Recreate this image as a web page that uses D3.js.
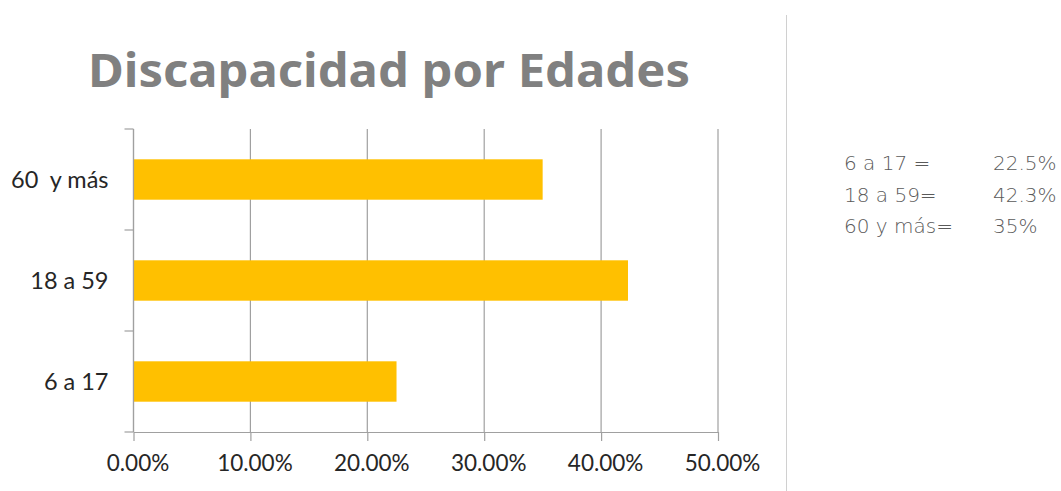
<!DOCTYPE html>
<html>
<head>
<meta charset="utf-8">
<script src="https://cdn.jsdelivr.net/npm/d3@7"></script>
<style>
  body { margin: 0; background: #fff; }
  svg { display: block; }
</style>
</head>
<body>
<script>
// data
const categories = ["60  y más", "18 a 59", "6 a 17"];
const values = [0.35, 0.423, 0.225];
const xTicks = [0, 0.1, 0.2, 0.3, 0.4, 0.5];
const noteLabels = ["6 a 17 =", "18 a 59=", "60 y más="];
const noteValues = ["22.5%", "42.3%", "35%"];

// layout
const W = 1061, H = 491;
const margin = {top: 129, left: 133.5, right: 343, bottom: 59};
const width = 718 - margin.left,
    height = 432 - margin.top;

const svg = d3.select("body").append("svg")
    .attr("width", W)
    .attr("height", H);

// title
svg.append("text")
    .attr("x", 389)
    .attr("y", 87)
    .attr("text-anchor", "middle")
    .attr("textLength", 602)
    .attr("lengthAdjust", "spacingAndGlyphs")
    .style("font-family", "'Noto Sans', 'DejaVu Sans', sans-serif")
    .style("font-weight", "bold")
    .style("font-size", "47px")
    .style("fill", "#808080")
    .text("Discapacidad por Edades");

const g = svg.append("g")
    .attr("transform", "translate(" + margin.left + "," + margin.top + ")");

const x = d3.scaleLinear()
    .domain([0, 0.5])
    .range([0, width]);

const y = d3.scaleBand()
    .domain(categories)
    .range([0, height])
    .paddingInner(0.6)
    .paddingOuter(0.3);

// gridlines
g.selectAll(".grid")
    .data(xTicks)
    .enter().append("line")
    .attr("x1", d => x(d))
    .attr("x2", d => x(d))
    .attr("y1", 0)
    .attr("y2", height)
    .attr("stroke", "#a0a0a0")
    .attr("stroke-width", 1.2);

// bars
g.selectAll(".bar")
    .data(values)
    .enter().append("rect")
    .attr("x", x(0))
    .attr("y", (d, i) => y(categories[i]))
    .attr("width", d => x(d) - x(0))
    .attr("height", y.bandwidth())
    .attr("fill", "#ffc000");

// x axis
const xAxis = g.append("g")
    .attr("transform", "translate(0," + height + ")")
    .call(d3.axisBottom(x)
        .tickValues(xTicks)
        .tickFormat(d3.format(".2%"))
        .tickSize(9)
        .tickSizeOuter(0)
        .tickPadding(14));
xAxis.select(".domain").attr("stroke", "#a0a0a0").attr("stroke-width", 1.2);
xAxis.selectAll(".tick line").attr("stroke", "#a0a0a0").attr("stroke-width", 1.2);
xAxis.selectAll("text")
    .attr("dx", 4)
    .style("font-family", "Lato, 'Open Sans', sans-serif")
    .style("font-size", "22.5px")
    .style("fill", "#262626");

// y axis line and boundary ticks
const bounds = d3.range(categories.length + 1).map(i => i * height / categories.length);
g.append("line")
    .attr("x1", 0).attr("x2", 0)
    .attr("y1", 0).attr("y2", height)
    .attr("stroke", "#a0a0a0")
    .attr("stroke-width", 1.2);
g.selectAll(".ytick")
    .data(bounds)
    .enter().append("line")
    .attr("x1", -9).attr("x2", 0)
    .attr("y1", d => d).attr("y2", d => d)
    .attr("stroke", "#a0a0a0")
    .attr("stroke-width", 1.2);

// y labels
g.selectAll(".ylabel")
    .data(categories)
    .enter().append("text")
    .attr("x", -25)
    .attr("y", d => y(d) + y.bandwidth() / 2)
    .attr("dy", "0.35em")
    .attr("text-anchor", "end")
    .attr("xml:space", "preserve")
    .style("white-space", "pre")
    .style("font-family", "Lato, 'Open Sans', sans-serif")
    .style("font-size", "23.5px")
    .style("fill", "#262626")
    .text(d => d);

// separator
svg.append("line")
    .attr("x1", 786.5).attr("x2", 786.5)
    .attr("y1", 15).attr("y2", H)
    .attr("stroke", "#d0d0d0")
    .attr("stroke-width", 1);

// side notes
const notes = svg.selectAll(".note")
    .data(noteLabels)
    .enter().append("g")
    .attr("transform", (d, i) => "translate(0," + (170 + i * 31.5) + ")");
notes.append("text")
    .attr("x", 844)
    .text(d => d);
notes.append("text")
    .attr("x", 993)
    .text((d, i) => noteValues[i]);
notes.selectAll("text")
    .style("font-family", "'DejaVu Sans', sans-serif")
    .style("font-weight", "200")
    .style("font-size", "20px")
    .style("fill", "#5a5a5a");
</script>
</body>
</html>
